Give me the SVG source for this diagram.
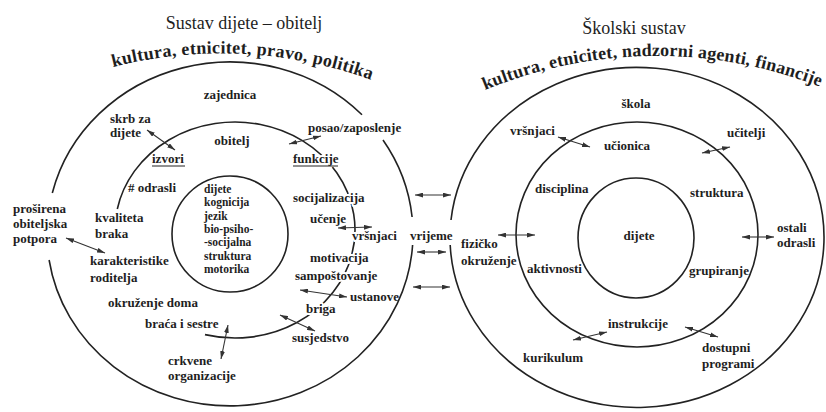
<svg xmlns="http://www.w3.org/2000/svg" width="826" height="412" viewBox="0 0 826 412">
<style>
.c{fill:none;stroke:#222;stroke-width:1.6}
.t{font-family:"Liberation Serif","Times New Roman",serif;font-size:13px;font-weight:bold;fill:#1e1e1e}
.s{font-size:11.5px}
.m{text-anchor:middle}
.h{paint-order:stroke;stroke:#fff;stroke-width:4px;stroke-linejoin:round}
.ti{font-family:"Liberation Serif","Times New Roman",serif;font-size:18px;fill:#1e1e1e;text-anchor:middle}
.cu{font-family:"Liberation Serif","Times New Roman",serif;font-size:18px;font-weight:bold;fill:#1e1e1e}
.a{fill:none;stroke:#333;stroke-width:1.1;marker-start:url(#ah);marker-end:url(#ah)}
.u{stroke:#222;stroke-width:1}
</style>
<defs>
<marker id="ah" viewBox="0 0 10 6" refX="10" refY="3" markerWidth="8" markerHeight="5" markerUnits="userSpaceOnUse" orient="auto-start-reverse"><path d="M0,0 L10,3 L0,6 z" fill="#333"/></marker>
<path id="arcL" d="M113,67 A438,438 0 0 1 374,81"/>
<path id="arcR" d="M485,90 A449,449 0 0 1 828,90"/>
</defs>
<rect width="826" height="412" fill="#fff"/>

<g id="rings">
<path class="c" d="M52.3,193 A183,172 0 0 1 362,114.8"/>
<path class="c" d="M383,140 A183,172 0 0 1 412.1,217"/>
<path class="c" d="M412.6,245 A183,172 0 0 1 49.1,260"/>
<path class="c" d="M117.3,209 A120,108 0 1 1 205,334.6"/>
<circle class="c" cx="230" cy="234" r="58"/>
<path class="c" d="M451,220 A187,170 0 1 1 450.2,245"/>
<ellipse class="c" cx="637" cy="234.5" rx="121" ry="112.5"/>
<ellipse class="c" cx="636" cy="238" rx="58" ry="60"/>
</g>

<g id="titles">
<text class="ti" x="244" y="29">Sustav dijete – obitelj</text>
<text class="ti" x="634" y="34">Školski sustav</text>
<text class="cu"><textPath href="#arcL" textLength="262" lengthAdjust="spacing">kultura, etnicitet, pravo, politika</textPath></text>
<text class="cu"><textPath href="#arcR" textLength="343" lengthAdjust="spacing">kultura, etnicitet, nadzorni agenti, financije</textPath></text>
</g>

<g id="left-labels">
<g id="zajednica"><text class="t m" x="230" y="99">zajednica</text></g>
<g id="skrb"><text class="t" x="110" y="123">skrb za</text><text class="t" x="110" y="137">dijete</text></g>
<g id="izvori"><text class="t" x="152" y="163">izvori</text><line class="u" x1="152" y1="166" x2="185" y2="166"/></g>
<g id="odrasli"><text class="t" x="128" y="192"># odrasli</text></g>
<g id="obitelj"><text class="t m" x="232" y="145">obitelj</text></g>
<g id="posao"><text class="t" x="308" y="132">posao/zaposlenje</text></g>
<g id="funkcije"><text class="t h" x="293" y="163">funkcije</text><line class="u" x1="293" y1="166" x2="338" y2="166"/></g>
<g id="socijalizacija"><text class="t h" x="293" y="202">socijalizacija</text></g>
<g id="ucenje"><text class="t" x="310" y="223">učenje</text></g>
<g id="vrsnjaci-l"><text class="t h" x="352" y="240">vršnjaci</text></g>
<g id="motivacija"><text class="t h" x="310" y="262">motivacija</text></g>
<g id="sampostovanje"><text class="t h" x="295" y="280">sampoštovanje</text></g>
<g id="ustanove"><text class="t" x="350" y="301">ustanove</text></g>
<g id="briga"><text class="t h" x="306" y="313">briga</text></g>
<g id="susjedstvo"><text class="t" x="292" y="342">susjedstvo</text></g>
<g id="braca"><text class="t" x="145" y="328">braća i sestre</text></g>
<g id="crkvene"><text class="t" x="168" y="365">crkvene</text><text class="t" x="168" y="380">organizacije</text></g>
<g id="okruzenje-doma"><text class="t" x="108" y="307">okruženje doma</text></g>
<g id="karakteristike"><text class="t" x="90" y="265">karakteristike</text><text class="t" x="90" y="282">roditelja</text></g>
<g id="kvaliteta"><text class="t h" x="95" y="222">kvaliteta</text><text class="t" x="95" y="238">braka</text></g>
<g id="prosirena"><text class="t" x="13" y="213">proširena</text><text class="t" x="13" y="228">obiteljska</text><text class="t" x="13" y="243">potpora</text></g>
<g id="dijete-l"><text class="t s" x="204" y="193">dijete</text><text class="t s" x="204" y="206.3">kognicija</text><text class="t s" x="204" y="219.6">jezik</text><text class="t s" x="204" y="232.9">bio-psiho-</text><text class="t s" x="204" y="246.2">-socijalna</text><text class="t s" x="204" y="259.5">struktura</text><text class="t s" x="204" y="272.8">motorika</text></g>
</g>

<g id="vrijeme"><text class="t" x="410" y="240">vrijeme</text></g>

<g id="right-labels">
<g id="skola"><text class="t m" x="636" y="108">škola</text></g>
<g id="vrsnjaci-r"><text class="t" x="510" y="135">vršnjaci</text></g>
<g id="ucionica"><text class="t m" x="627" y="150">učionica</text></g>
<g id="ucitelji"><text class="t" x="727" y="137">učitelji</text></g>
<g id="disciplina"><text class="t" x="535" y="193">disciplina</text></g>
<g id="struktura"><text class="t" x="690" y="197">struktura</text></g>
<g id="dijete-r"><text class="t m" x="639" y="240">dijete</text></g>
<g id="ostali"><text class="t" x="777" y="232">ostali</text><text class="t" x="777" y="247">odrasli</text></g>
<g id="fizicko"><text class="t" x="461" y="248">fizičko</text><text class="t" x="461" y="265">okruženje</text></g>
<g id="aktivnosti"><text class="t" x="527" y="273">aktivnosti</text></g>
<g id="grupiranje"><text class="t" x="689" y="275">grupiranje</text></g>
<g id="instrukcije"><text class="t" x="608" y="328">instrukcije</text></g>
<g id="kurikulum"><text class="t" x="523" y="362">kurikulum</text></g>
<g id="dostupni"><text class="t" x="702" y="352">dostupni</text><text class="t" x="702" y="368">programi</text></g>
</g>

<g id="connectors">
<path class="a" d="M147,130 L175,150"/>
<path class="a" d="M289,144 L321,136"/>
<path class="a" d="M338,228 L372,227"/>
<path class="a" d="M300,290 L347,297"/>
<path class="a" d="M280,315 L315,331"/>
<path class="a" d="M228,325 L221,359"/>
<path class="a" d="M66,238 L105,253"/>
<path class="a" d="M415,195 L451,195"/>
<path class="a" d="M417,252 L446,252"/>
<path class="a" d="M413,287 L450,287"/>
<path class="a" d="M558,137 L590,147"/>
<path class="a" d="M702,153 L730,147"/>
<path class="a" d="M498,235 L535,235"/>
<path class="a" d="M742,237 L774,237"/>
<path class="a" d="M573,340 L607,332"/>
<path class="a" d="M685,327 L718,337"/>
</g>
</svg>
